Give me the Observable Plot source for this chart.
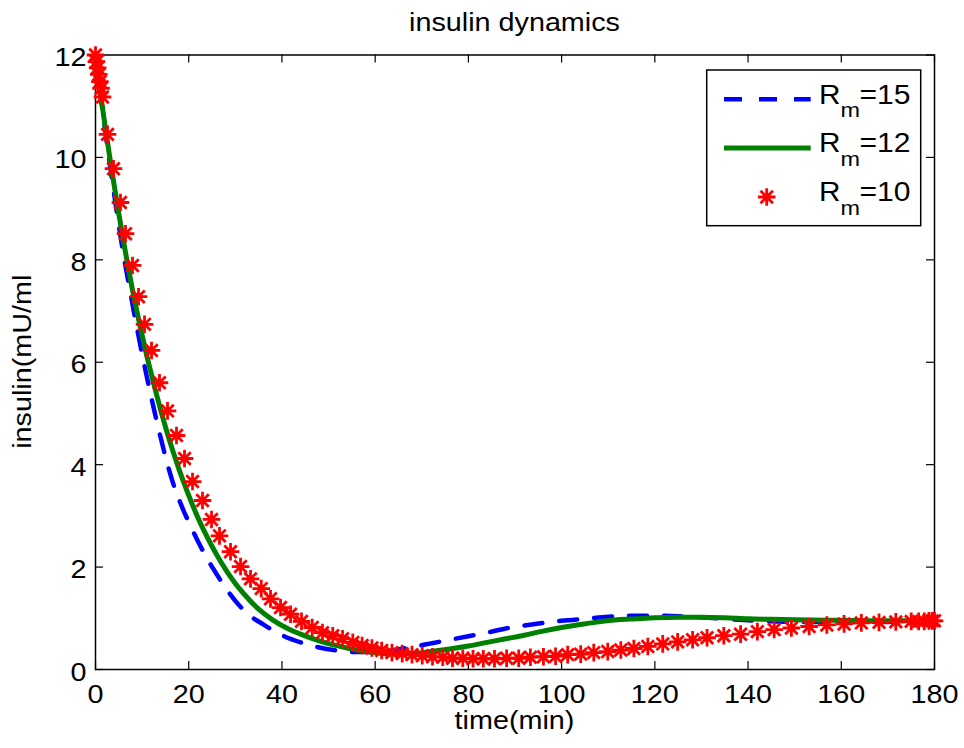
<!DOCTYPE html>
<html><head><meta charset="utf-8">
<script src="https://cdn.jsdelivr.net/npm/d3@7"></script>
<script src="https://cdn.jsdelivr.net/npm/@observablehq/plot@0.6"></script>
<style>html,body{margin:0;padding:0;background:#fff;} svg{display:block}</style>
</head><body><div id="chart"></div>
<script>
// ---- data ----
const xTicks = [0, 20, 40, 60, 80, 100, 120, 140, 160, 180];
const yTicks = [0, 2, 4, 6, 8, 10, 12];
const seriesNames = ["15", "12", "10"];

const timeR15 = [0,1,2,3,4,5,6,7,8,9,10,11,12,13,14,15,16,17,18,19,20,22,24,26,28,30,33,36,40,44,48,52,56,60,64,68,72,76,80,84,88,92,96,100,105,110,115,120,125,130,135,140,145,150,160,170,180];
const insulinR15 = [12.0,11.28,10.58,9.92,9.28,8.68,8.1,7.6,7.1,6.62,6.16,5.72,5.3,4.9,4.52,4.16,3.83,3.54,3.3,3.08,2.88,2.5,2.16,1.86,1.58,1.34,1.06,0.88,0.67,0.53,0.43,0.37,0.34,0.34,0.38,0.44,0.51,0.58,0.65,0.72,0.8,0.86,0.91,0.95,0.99,1.03,1.05,1.05,1.04,1.02,0.99,0.96,0.94,0.93,0.93,0.93,0.94];

const timeR12 = [0,1,2,3,4,5,6,7,8,9,10,11,12,13,14,15,16,17,18,19,20,22,24,26,28,30,32,35,38,41,44,48,52,56,60,64,68,72,76,80,84,88,92,96,100,104,108,112,116,120,125,130,135,140,145,150,160,170,180];
const insulinR12 = [12.0,11.3,10.65,10.04,9.46,8.9,8.37,7.86,7.38,6.94,6.53,6.13,5.76,5.4,5.06,4.74,4.44,4.16,3.89,3.64,3.4,2.96,2.58,2.24,1.94,1.68,1.46,1.18,0.97,0.81,0.69,0.56,0.46,0.38,0.33,0.3,0.31,0.35,0.4,0.46,0.53,0.6,0.67,0.75,0.82,0.88,0.93,0.97,0.99,1.01,1.02,1.02,1.01,0.99,0.98,0.97,0.96,0.95,0.95];

const timeR10 = [0,0.2,0.45,0.7,0.95,1.2,1.5,2.58,3.86,5.36,6.44,7.94,9.23,10.52,12.02,13.73,15.45,17.38,19.1,20.82,22.96,24.89,26.6,28.97,31.12,33.26,35.56,37.55,39.7,41.85,44.2,46.5,48.7,50.9,53.0,55.2,57.2,59.3,61.4,63.6,65.8,67.9,70.1,72.3,74.5,76.6,78.8,81.0,83.2,85.6,88.2,90.8,93.3,96.1,98.7,101.3,104.1,106.9,109.9,112.7,115.5,118.5,121.7,124.9,128.1,131.2,134.8,138.4,142.0,145.6,149.3,153.1,156.9,160.6,164.3,168.1,171.7,175.0,176.6,177.8,178.8,179.5,180];
const insulinR10 = [12.0,11.87,11.75,11.62,11.48,11.35,11.18,10.45,9.78,9.12,8.51,7.89,7.28,6.74,6.23,5.6,5.05,4.57,4.12,3.67,3.3,2.93,2.61,2.3,2.01,1.77,1.58,1.38,1.21,1.08,0.94,0.82,0.72,0.66,0.6,0.53,0.47,0.42,0.37,0.33,0.31,0.29,0.27,0.25,0.24,0.22,0.22,0.21,0.21,0.21,0.22,0.22,0.24,0.25,0.26,0.29,0.3,0.33,0.35,0.38,0.41,0.45,0.5,0.54,0.58,0.62,0.66,0.69,0.74,0.78,0.81,0.84,0.87,0.89,0.91,0.92,0.93,0.94,0.94,0.94,0.95,0.95,0.95];

const colBlue = "#0000ff", colGreen = "#008000", colRed = "#ff0000";

const blue = timeR15.map((t, i) => ({t, v: insulinR15[i]}));
const green = timeR12.map((t, i) => ({t, v: insulinR12[i]}));
const red = timeR10.map((t, i) => ({t, v: insulinR10[i]}));

// ---- layout ----
const W = 964, H = 748, mt = 54.5, ml = 95, mr = 30, mb = 79;
const iw = W - ml - mr, ih = H - mt - mb;
const TL = 8;
const FONT = "'Liberation Sans', Arial, Helvetica, sans-serif";
const STAR_R = 8.8;
const STAR_W = 2.8;

// MATLAB-style 8-spoke asterisk
const star8 = {
  draw(ctx, size) {
    const r = Math.sqrt(size / Math.PI), d = r * Math.SQRT1_2;
    ctx.moveTo(-r, 0); ctx.lineTo(r, 0);
    ctx.moveTo(0, -r); ctx.lineTo(0, r);
    ctx.moveTo(-d, -d); ctx.lineTo(d, d);
    ctx.moveTo(-d, d); ctx.lineTo(d, -d);
  }
};

const chart = Plot.plot({
  width: W, height: H,
  marginTop: mt, marginLeft: ml, marginRight: mr, marginBottom: mb,
  style: {fontFamily: FONT, color: "#000", background: "#fff", overflow: "visible"},
  x: {domain: [0, 180]},
  y: {domain: [0, 12]},
  marks: [
    Plot.frame({stroke: "#000", strokeWidth: 1.5}),
    Plot.tickX(xTicks, {x: d => d, insetTop: ih - TL, stroke: "#000", strokeWidth: 1.2}),
    Plot.tickX(xTicks, {x: d => d, insetBottom: ih - TL, stroke: "#000", strokeWidth: 1.2}),
    Plot.tickY(yTicks, {y: d => d, insetRight: iw - TL, stroke: "#000", strokeWidth: 1.2}),
    Plot.tickY(yTicks, {y: d => d, insetLeft: iw - TL, stroke: "#000", strokeWidth: 1.2}),
    Plot.axisX({ticks: xTicks, tickSize: 0, tickPadding: 15.6, fontSize: 25, label: null, tickFormat: d => String(d)}),
    Plot.axisY({ticks: yTicks, tickSize: 0, tickPadding: 9, fontSize: 25, label: null, dy: 3, tickFormat: d => String(d)}),
    Plot.line(blue, {x: "t", y: "v", stroke: colBlue, strokeWidth: 4.5, strokeDasharray: "18,17", curve: "monotone-x"}),
    Plot.line(green, {x: "t", y: "v", stroke: colGreen, strokeWidth: 5, curve: "monotone-x"}),
    Plot.dot(red, {x: "t", y: "v", symbol: star8, r: STAR_R, stroke: colRed, fill: "none", strokeWidth: STAR_W})
  ]
});

document.getElementById("chart").appendChild(chart);
const svg = d3.select(chart);

// title and axis labels
svg.append("text").attr("x", ml + iw / 2).attr("y", 31).attr("text-anchor", "middle")
  .attr("font-family", FONT).attr("font-size", 25).attr("fill", "#000").text("insulin dynamics");
svg.append("text").attr("x", ml + iw / 2).attr("y", 729).attr("text-anchor", "middle")
  .attr("font-family", FONT).attr("font-size", 25).attr("fill", "#000").text("time(min)");
svg.append("text").attr("transform", `translate(31,${mt + ih / 2}) rotate(-90)`).attr("text-anchor", "middle")
  .attr("font-family", FONT).attr("font-size", 25).attr("fill", "#000").text("insulin(mU/ml");

// stretch text horizontally to match the reference's wide rendering
svg.selectAll("text").each(function () {
  const L = this.getComputedTextLength();
  if (L > 0) {
    this.setAttribute("textLength", L * 1.15);
    this.setAttribute("lengthAdjust", "spacingAndGlyphs");
  }
});

// legend
const lg = svg.append("g").attr("text-anchor", "start");
lg.append("rect").attr("x", 706.7).attr("y", 70).attr("width", 214).attr("height", 155.7)
  .attr("fill", "#fff").attr("stroke", "#000").attr("stroke-width", 1.5);
const rowsY = [99.3, 148, 197];
lg.append("line").attr("x1", 724).attr("x2", 810.7).attr("y1", rowsY[0]).attr("y2", rowsY[0])
  .attr("stroke", colBlue).attr("stroke-width", 4.5).attr("stroke-dasharray", "18,17");
lg.append("line").attr("x1", 724).attr("x2", 810.7).attr("y1", rowsY[1]).attr("y2", rowsY[1])
  .attr("stroke", colGreen).attr("stroke-width", 5);
const sp = d3.path();
star8.draw(sp, Math.PI * STAR_R * STAR_R);
lg.append("path").attr("d", sp.toString()).attr("transform", `translate(766.7,${rowsY[2]})`)
  .attr("stroke", colRed).attr("stroke-width", STAR_W).attr("fill", "none");
seriesNames.forEach((name, i) => {
  const base = rowsY[i] + 4.3;
  const addT = (x, y, size, txt, len) => lg.append("text").attr("x", x).attr("y", y)
    .attr("text-anchor", "start")
    .attr("font-family", FONT).attr("font-size", size).attr("fill", "#000")
    .attr("textLength", len).attr("lengthAdjust", "spacingAndGlyphs").text(txt);
  addT(819, base, 27.5, "R", 21.5);
  addT(840.5, base + 13.4, 20, "m", 19.5);
  addT(859.5, base, 27.5, "=" + name, 51);
});
</script>
</body></html>
